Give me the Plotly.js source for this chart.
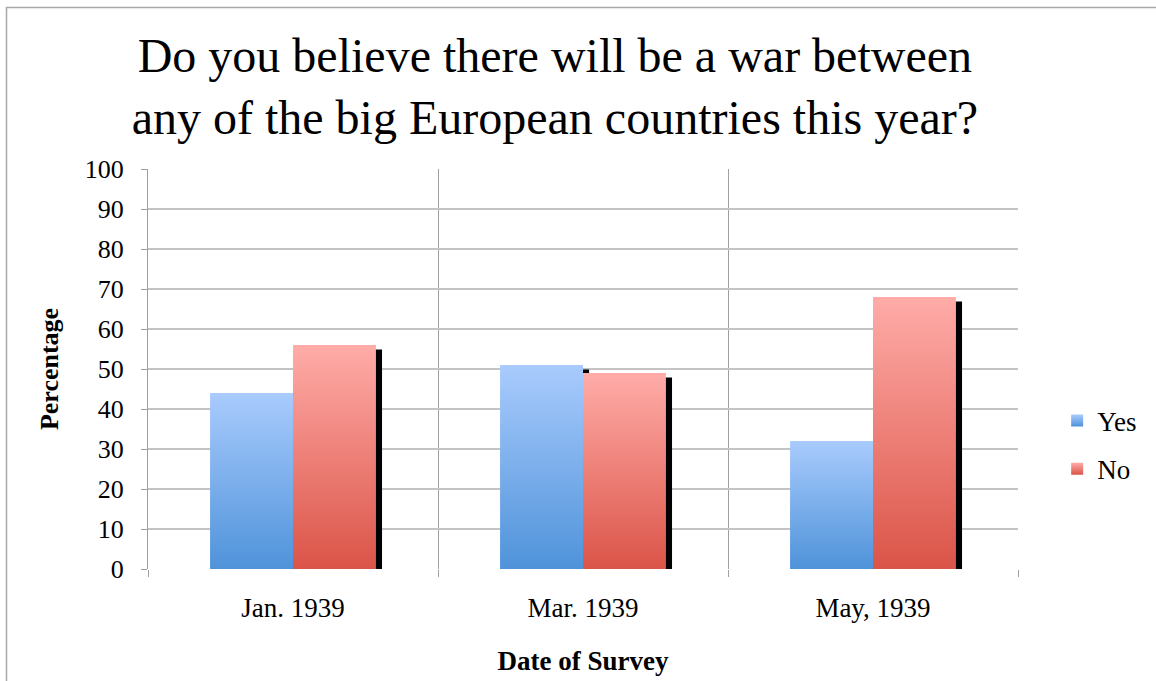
<!DOCTYPE html>
<html>
<head>
<meta charset="utf-8">
<script src="https://cdn.plot.ly/plotly-3.0.1.min.js"></script>
<style>
html,body{margin:0;padding:0;background:#fff;}
#chart{width:1156px;height:681px;}
</style>
</head>
<body>
<div id="chart"></div>
<script>
// ---- data ----
var categories = ["Jan. 1939", "Mar. 1939", "May, 1939"];
var yesValues = [44, 51, 32];
var noValues = [56, 49, 68];
var seriesNames = ["Yes", "No"];
var yTickValues = [0, 10, 20, 30, 40, 50, 60, 70, 80, 90, 100];

var FONT = "Liberation Serif, Times New Roman, serif";
var BW = 0.286;     // bar width (category units)
var SH = 0.021;     // shadow x offset
var SHB = -1.1;     // shadow drop

function shadow(vals, off) {
  return {type: "bar", x: categories, y: vals, base: SHB, offset: off + SH, width: BW,
    marker: {color: "#000", line: {width: 0}}, showlegend: false, hoverinfo: "skip"};
}

var traces = [
  shadow(yesValues, -BW),
  shadow(noValues, 0),
  {type: "bar", name: seriesNames[0], x: categories, y: yesValues, offset: -BW, width: BW,
    marker: {color: "#7aaef0", line: {width: 0}}, legendgroup: "a"},
  {type: "bar", name: seriesNames[1], x: categories, y: noValues, offset: 0, width: BW,
    marker: {color: "#ef8078", line: {width: 0}}, legendgroup: "b"}
];

var layout = {
  width: 1156, height: 681,
  margin: {l: 148, r: 138, t: 169, b: 112},
  paper_bgcolor: "#fff", plot_bgcolor: "#fff",
  font: {family: FONT, size: 27, color: "#000"},
  barmode: "overlay",
  title: {
    text: "Do you believe there will be a war between<br>any of the big European countries this year?",
    font: {family: FONT, size: 48, color: "#000"},
    x: 0.48, xref: "container", xanchor: "center",
    y: 0.895, yref: "container", yanchor: "top"
  },
  xaxis: {
    type: "category",
    tickson: "boundaries", ticks: "outside", ticklen: 7, tickcolor: "#a0a0a0", tickwidth: 1,
    showgrid: true, gridcolor: "#a0a0a0", gridwidth: 1,
    showline: false, zeroline: false,
    tickfont: {family: FONT, size: 27, color: "#000"},
    ticklabelstandoff: 20,
    title: {text: "<b>Date of Survey</b>", font: {family: FONT, size: 27, color: "#000"}, standoff: 29}
  },
  yaxis: {
    range: [0, 100], tickvals: yTickValues, ticks: "outside", ticklen: 6, tickcolor: "#a0a0a0",
    showgrid: true, gridcolor: "#c4c4c4", gridwidth: 1.5,
    showline: true, linecolor: "#a0a0a0", linewidth: 1,
    zeroline: false,
    tickfont: {family: FONT, size: 26, color: "#000"},
    ticklabelstandoff: 12,
    title: {text: "<b>Percentage</b>", font: {family: FONT, size: 26, color: "#000"}, standoff: 18}
  },
  legend: {
    x: 1.045, xanchor: "left", y: 0.31, yanchor: "middle",
    font: {family: FONT, size: 27, color: "#000"},
    traceorder: "grouped", tracegroupgap: 10, itemwidth: 30
  },
  shapes: [{
    type: "rect", xref: "paper", yref: "paper",
    x0: (6.5 - 148) / 870, x1: (1200 - 148) / 870,
    y0: (569 - 720) / 400, y1: (569 - 7.5) / 400,
    line: {color: "#a8a8a8", width: 1.5}, fillcolor: "rgba(0,0,0,0)", layer: "below"
  }],
  showlegend: true
};

Plotly.newPlot("chart", traces, layout, {staticPlot: true}).then(function (gd) {
  var svg = gd.querySelector("svg.main-svg");
  var ns = "http://www.w3.org/2000/svg";
  var defs = document.createElementNS(ns, "defs");
  function grad(id, top, bot) {
    var g = document.createElementNS(ns, "linearGradient");
    g.setAttribute("id", id);
    g.setAttribute("x1", "0"); g.setAttribute("y1", "0");
    g.setAttribute("x2", "0"); g.setAttribute("y2", "1");
    [[0, top], [1, bot]].forEach(function (s) {
      var st = document.createElementNS(ns, "stop");
      st.setAttribute("offset", s[0]);
      st.setAttribute("stop-color", s[1]);
      g.appendChild(st);
    });
    defs.appendChild(g);
  }
  grad("gYes", "#a9cbfd", "#4f93da");
  grad("gNo", "#ffaca8", "#db5448");
  svg.insertBefore(defs, svg.firstChild);
  var groups = gd.querySelectorAll(".barlayer .trace");
  var fills = [null, null, "url(#gYes)", "url(#gNo)"];
  groups.forEach(function (g, i) {
    if (!fills[i]) return;
    g.querySelectorAll("path").forEach(function (p) { p.style.fill = fills[i]; });
  });
  var leg = gd.querySelectorAll(".legend .traces");
  var lf = ["url(#gYes)", "url(#gNo)"];
  leg.forEach(function (t, i) {
    t.querySelectorAll(".legendpoints path").forEach(function (p) { p.style.fill = lf[i]; });
  });
});
</script>
</body>
</html>
